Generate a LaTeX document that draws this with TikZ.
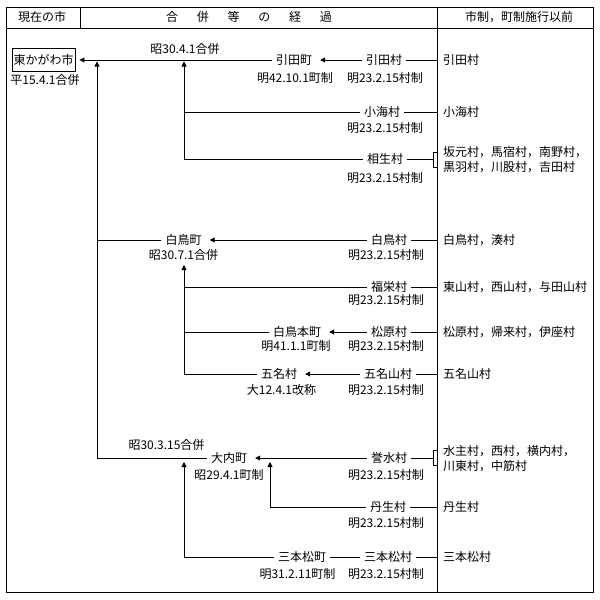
\documentclass[tikz,border=0pt]{standalone}
\usepackage{fontspec}
\setmainfont{Noto Sans CJK JP}
\usetikzlibrary{arrows.meta}
\tikzset{
  ln/.style={line width=0.9pt},
  arr/.style={ln,-{Triangle[length=5pt,width=5pt]}},
  sarr/.style={arr,shorten >=4pt},
  txt/.style={inner sep=0pt,font=\fontsize{12}{15}\selectfont},
  nm/.style={txt,inner xsep=4pt,inner ysep=2pt},
  rc/.style={txt,anchor=west,align=left},
  citybox/.style={draw,line width=0.9pt,inner sep=0pt,minimum width=63pt,minimum height=23pt,font=\fontsize{12}{15}\selectfont}
}
\begin{document}
\begin{tikzpicture}[x=1pt,y=-1pt]
\useasboundingbox (0,0) rectangle (600,600);
% table frame
\draw[ln] (6,7) rectangle (593,592);
\draw[ln] (6,28) -- (593,28);
\draw[ln] (80,7) -- (80,28);
\draw[ln] (437,7) -- (437,592);
\coordinate (div) at (437,0);
% header
\node[txt] (h1) at (42,17) {現在の市};
\node[txt] (h2) at (249,17) {合\hspace{18.8pt}併\hspace{18.8pt}等\hspace{18.8pt}の\hspace{18.8pt}経\hspace{18.8pt}過};
\node[txt] (h3) at (519,17) {市制，町制施行以前};
% city
\node[citybox] (city) at (43.5,60) {東かがわ市};
\node[txt] (cityL) at (45,80) {平15.4.1合併};
\node[txt] (m1L) at (185,49) {昭30.4.1合併};
% Hiketa group
\node[nm] (hikitacho) at (294,60) {引田町};
\node[txt] (hikitachoL) at (295,78) {明42.10.1町制};
\node[nm] (hikitamura) at (384,60) {引田村};
\node[txt] (hikitamuraL) at (385,78) {明23.2.15村制};
\node[rc] (r1) at (443,60) {引田村};
\node[nm] (oumi) at (382,112) {小海村};
\node[txt] (oumiL) at (385,128) {明23.2.15村制};
\node[rc] (r2) at (443,112) {小海村};
\node[nm] (aioi) at (385,159) {相生村};
\node[txt] (aioiL) at (385,178) {明23.2.15村制};
\node[rc] (r3) at (443,160) {坂元村，馬宿村，南野村，\\黒羽村，川股村，吉田村};
% Shirotori group
\node[nm] (shirotoricho) at (183.5,240) {白鳥町};
\node[txt] (shirotorichoL) at (183.5,255) {昭30.7.1合併};
\node[nm] (shirotorimura) at (389,240) {白鳥村};
\node[txt] (shirotorimuraL) at (386,255) {明23.2.15村制};
\node[rc] (r4) at (443,240) {白鳥村，湊村};
\node[nm] (fukuei) at (389,287) {福栄村};
\node[txt] (fukueiL) at (386,300) {明23.2.15村制};
\node[rc] (r5) at (443,287) {東山村，西山村，与田山村};
\node[nm] (honcho) at (297,332) {白鳥本町};
\node[txt] (honchoL) at (296,346) {明41.1.1町制};
\node[nm] (matsubara) at (389,332) {松原村};
\node[txt] (matsubaraL) at (386,346) {明23.2.15村制};
\node[rc] (r6) at (443,332) {松原村，帰来村，伊座村};
\node[nm] (gomyo) at (279,374) {五名村};
\node[txt] (gomyoL) at (281.5,390) {大12.4.1改称};
\node[nm] (gomyoyama) at (388,374) {五名山村};
\node[txt] (gomyoyamaL) at (386,390) {明23.2.15村制};
\node[rc] (r7) at (443,374) {五名山村};
% Ouchi group
\node[txt] (ouchiT) at (166.5,445) {昭30.3.15合併};
\node[nm] (ouchi) at (229,458) {大内町};
\node[txt] (ouchiL) at (229,475) {昭29.4.1町制};
\node[nm] (yomizu) at (389,458) {誉水村};
\node[txt] (yomizuL) at (386,475) {明23.2.15村制};
\node[rc] (r8) at (443,459) {水主村，西村，横内村，\\川東村，中筋村};
\node[nm] (nyu) at (388,507) {丹生村};
\node[txt] (nyuL) at (386,523) {明23.2.15村制};
\node[rc] (r9) at (443,507) {丹生村};
\node[nm] (sbmcho) at (302,557) {三本松町};
\node[txt] (sbmchoL) at (297.5,574) {明31.2.11町制};
\node[nm] (sbmmura) at (388,557) {三本松村};
\node[txt] (sbmmuraL) at (386,574) {明23.2.15村制};
\node[rc] (r10) at (443,557) {三本松村};
% junction points
\coordinate (j0) at (97,61.5);
\coordinate (j1) at (184,61.5);
\coordinate (j2) at (184,265);
\coordinate (j3) at (184,462);
\coordinate (j4) at (270,462);
\coordinate (b1) at (433,0);
% connectors: Hiketa
\draw[sarr] (hikitacho.west) -- (city.east);
\draw[sarr] (hikitamura.west) -- (hikitacho.east);
\draw[ln] (hikitamura.east) -- (hikitamura.east -| div);
\draw[ln] (oumi.west) -- (oumi.west -| j1);
\draw[ln] (oumi.east) -- (oumi.east -| div);
\draw[arr] (aioi.west) -| (j1);
\draw[ln] (aioi.east) -- (aioi.east -| b1);
\draw[ln] (437,152) -- (433,152) -- (433,167) -- (437,167);
% connectors: Shirotori
\draw[ln] (shirotoricho.west) -- (shirotoricho.west -| j0);
\draw[sarr] (shirotorimura.west) -- (shirotoricho.east);
\draw[ln] (shirotorimura.east) -- (shirotorimura.east -| div);
\draw[ln] (fukuei.west) -- (fukuei.west -| j2);
\draw[ln] (fukuei.east) -- (fukuei.east -| div);
\draw[ln] (honcho.west) -- (honcho.west -| j2);
\draw[sarr] (matsubara.west) -- (honcho.east);
\draw[ln] (matsubara.east) -- (matsubara.east -| div);
\draw[arr] (gomyo.west) -| (j2);
\draw[sarr] (gomyoyama.west) -- (gomyo.east);
\draw[ln] (gomyoyama.east) -- (gomyoyama.east -| div);
% connectors: Ouchi
\draw[arr] (ouchi.west) -| (j0);
\draw[sarr] (yomizu.west) -- (ouchi.east);
\draw[ln] (yomizu.east) -- (yomizu.east -| b1);
\draw[ln] (437,450) -- (433,450) -- (433,465) -- (437,465);
\draw[arr] (nyu.west) -| (j4);
\draw[ln] (nyu.east) -- (nyu.east -| div);
\draw[arr] (sbmcho.west) -| (j3);
\draw[ln] (sbmmura.west) -- (sbmcho.east);
\draw[ln] (sbmmura.east) -- (sbmmura.east -| div);
\end{tikzpicture}
\end{document}
